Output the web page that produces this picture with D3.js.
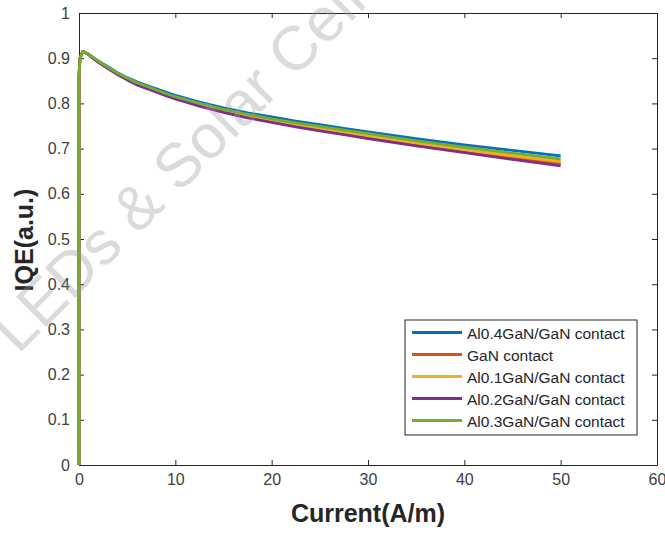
<!DOCTYPE html>
<html>
<head>
<meta charset="utf-8">
<script src="https://cdn.jsdelivr.net/npm/d3@7"></script>
<style>
    body { margin: 0; background: #fff; }
    svg { display: block; font-family: 'Liberation Sans', Arial, sans-serif; }
    .axis path, .axis line { stroke: #262626; stroke-width: 1; }
    .axis text { fill: #404040; font-size: 16px; font-family: 'Liberation Sans', Arial, sans-serif; }
    .axis-label { font-weight: bold; font-size: 25px; fill: #262626; }
    .legend text { font-size: 15.5px; fill: #262626; }
</style>
</head>
<body>
<div id="chart"></div>
<script>
// data
const currents = [0, 0, 0.1, 0.4, 1, 1.5, 2, 3, 4, 5, 6, 7.5, 9, 10, 12.5, 15, 17.5, 20, 22.5, 25, 27.5, 30, 35, 40, 45, 50];
const iqeAl04 = [0, 0.86, 0.90, 0.915, 0.909, 0.901, 0.894, 0.881, 0.868, 0.857, 0.848, 0.836, 0.825, 0.818, 0.803, 0.790, 0.779, 0.770, 0.761, 0.753, 0.745, 0.737, 0.722, 0.708, 0.696, 0.684];
const iqeGaN  = [0, 0.86, 0.90, 0.915, 0.908, 0.900, 0.892, 0.878, 0.865, 0.853, 0.843, 0.831, 0.819, 0.812, 0.796, 0.782, 0.771, 0.761, 0.751, 0.742, 0.734, 0.725, 0.709, 0.694, 0.680, 0.667];
const iqeAl01 = [0, 0.86, 0.90, 0.915, 0.908, 0.900, 0.892, 0.879, 0.866, 0.854, 0.844, 0.832, 0.820, 0.813, 0.797, 0.784, 0.772, 0.763, 0.753, 0.745, 0.736, 0.728, 0.712, 0.697, 0.684, 0.671];
const iqeAl02 = [0, 0.86, 0.90, 0.915, 0.908, 0.899, 0.891, 0.877, 0.864, 0.852, 0.841, 0.829, 0.817, 0.810, 0.794, 0.780, 0.768, 0.758, 0.748, 0.739, 0.731, 0.722, 0.706, 0.691, 0.676, 0.662];
const iqeAl03 = [0, 0.86, 0.90, 0.915, 0.909, 0.901, 0.893, 0.880, 0.867, 0.856, 0.846, 0.834, 0.822, 0.815, 0.800, 0.787, 0.776, 0.766, 0.757, 0.749, 0.741, 0.733, 0.717, 0.703, 0.690, 0.677];

const seriesNames = ['Al0.4GaN/GaN contact', 'GaN contact', 'Al0.1GaN/GaN contact', 'Al0.2GaN/GaN contact', 'Al0.3GaN/GaN contact'];
const seriesValues = [iqeAl04, iqeGaN, iqeAl01, iqeAl02, iqeAl03];
const seriesColors = ['#0072BD', '#D95319', '#EDB120', '#7E2F8E', '#77AC30'];

const xTicks = [0, 10, 20, 30, 40, 50, 60];
const yTicks = [0, 0.1, 0.2, 0.3, 0.4, 0.5, 0.6, 0.7, 0.8, 0.9, 1];

let margin = { top: 13, right: 8, bottom: 68, left: 79 };
let width = 665;
let height = 533;
let chartWidth = width - margin.left - margin.right;
let chartHeight = height - margin.top - margin.bottom;
let svg, xScale, yScale;

function buildSVG() {
    svg = d3.select('#chart')
        .append('svg')
        .attr('width', width)
        .attr('height', height)
      .append('g')
        .attr('transform', `translate(${margin.left},${margin.top})`);
}

function buildScales() {
    xScale = d3.scaleLinear()
        .domain([0, 60])
        .range([0, chartWidth]);

    yScale = d3.scaleLinear()
        .domain([0, 1])
        .range([chartHeight, 0]);
}

function drawAxes() {
    svg.append('g')
        .attr('class', 'axis')
        .attr('transform', `translate(0,${chartHeight})`)
        .call(d3.axisBottom(xScale).tickValues(xTicks).tickSizeInner(-5).tickSizeOuter(0).tickPadding(9).tickFormat(d => d));

    svg.append('g')
        .attr('class', 'axis')
        .call(d3.axisLeft(yScale).tickValues(yTicks).tickSizeInner(-5).tickSizeOuter(0).tickPadding(9).tickFormat(d => d));

    svg.append('g')
        .attr('class', 'axis')
        .call(d3.axisTop(xScale).tickValues(xTicks).tickSizeInner(-5).tickSizeOuter(0).tickFormat(''));

    svg.append('g')
        .attr('class', 'axis')
        .attr('transform', `translate(${chartWidth},0)`)
        .call(d3.axisRight(yScale).tickValues(yTicks).tickSizeInner(-5).tickSizeOuter(0).tickFormat(''));

    svg.append('text')
        .attr('class', 'axis-label')
        .attr('x', chartWidth / 2)
        .attr('y', chartHeight + 57)
        .attr('text-anchor', 'middle')
        .text('Current(A/m)');

    svg.append('text')
        .attr('class', 'axis-label')
        .attr('transform', 'rotate(-90)')
        .attr('x', -(240 - margin.top))
        .attr('y', 33 - margin.left)
        .attr('text-anchor', 'middle')
        .text('IQE(a.u.)');
}

function drawLines() {
    let line = d3.line()
        .x(d => xScale(d[0]))
        .y(d => yScale(d[1]));

    seriesValues.forEach((values, i) => {
        svg.append('path')
            .datum(currents.map((c, j) => [c, values[j]]))
            .attr('fill', 'none')
            .attr('stroke', seriesColors[i])
            .attr('stroke-width', 2.8)
            .attr('stroke-linejoin', 'round')
            .attr('d', line);
    });
}

function drawLegend() {
    let legend = svg.append('g')
        .attr('class', 'legend')
        .attr('transform', `translate(${405 - margin.left},${320 - margin.top})`);

    legend.append('rect')
        .attr('width', 232)
        .attr('height', 115)
        .attr('fill', '#fff')
        .attr('stroke', '#262626')
        .attr('stroke-width', 1);

    let items = legend.selectAll('.item')
        .data(seriesNames)
        .enter()
      .append('g')
        .attr('transform', (d, i) => `translate(0,${12.5 + i * 22})`);

    items.append('line')
        .attr('x1', 7)
        .attr('x2', 57)
        .attr('stroke', (d, i) => seriesColors[i])
        .attr('stroke-width', 3);

    items.append('text')
        .attr('x', 62)
        .attr('y', 6)
        .text(d => d);
}

function drawWatermark() {
    d3.select('#chart svg').append('text')
        .attr('transform', 'translate(18,355) rotate(-45)')
        .attr('font-size', 62)
        .attr('fill', '#999')
        .attr('fill-opacity', 0.35)
        .text('LEDs & Solar Cells');
}

buildSVG();
buildScales();
drawAxes();
drawLines();
drawLegend();
drawWatermark();
</script>
</body>
</html>
